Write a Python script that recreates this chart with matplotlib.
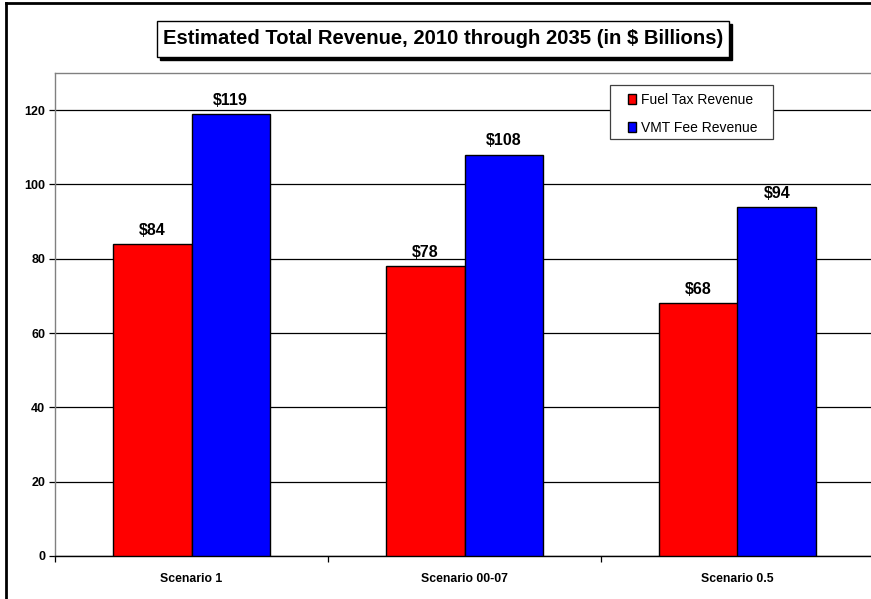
import matplotlib
matplotlib.use("Agg")
import matplotlib.pyplot as plt
from matplotlib.patches import Rectangle
from matplotlib.lines import Line2D
import numpy as np

plt.rcParams['font.family'] = ['Liberation Sans', 'DejaVu Sans']

categories = ["Scenario 1", "Scenario 00-07", "Scenario 0.5"]
fuel_tax = [84, 78, 68]
vmt_fee = [119, 108, 94]
series_names = ["Fuel Tax Revenue", "VMT Fee Revenue"]
yticks = [0, 20, 40, 60, 80, 100, 120]
title = "Estimated Total Revenue, 2010 through 2035 (in $ Billions)"

W, H = 871, 599
fig = plt.figure(figsize=(W / 100, H / 100), dpi=100)

def px_rect(x0, y0, x1, y1):
    """Convert top-left pixel box to figure fraction [l, b, w, h]."""
    return [x0 / W, 1 - y1 / H, (x1 - x0) / W, (y1 - y0) / H]

ax = fig.add_axes(px_rect(55, 73, 874, 556))

x = np.arange(len(categories))
w = 0.2875
ax.bar(x - w / 2, fuel_tax, w, color="#ff0000", edgecolor="black", linewidth=1.0,
       label=series_names[0], zorder=3)
ax.bar(x + w / 2, vmt_fee, w, color="#0000ff", edgecolor="black", linewidth=1.0,
       label=series_names[1], zorder=3)

for xi, v in zip(x - w / 2, fuel_tax):
    ax.annotate(f"${v}", (xi, v), xytext=(0, 4.5), textcoords="offset points",
                ha="center", va="bottom", fontsize=11.5, fontweight="bold", zorder=4)
for xi, v in zip(x + w / 2, vmt_fee):
    ax.annotate(f"${v}", (xi, v), xytext=(0, 4.5), textcoords="offset points",
                ha="center", va="bottom", fontsize=11.5, fontweight="bold", zorder=4)

ax.set_xlim(-0.5, len(categories) - 0.5)
ax.set_ylim(0, 130)
ax.set_yticks(yticks)
ax.set_yticklabels([str(t) for t in yticks], fontsize=9, fontweight="bold")
ax.yaxis.grid(True, color="black", linewidth=0.9, zorder=0)
ax.set_axisbelow(True)
ax.tick_params(axis="y", length=4, width=0.9, color="black", pad=3)

ax.set_xticks(x)
ax.set_xticklabels(categories, fontsize=8.8, fontweight="bold")
ax.tick_params(axis="x", which="major", length=0, pad=12)
ax.set_xticks(np.arange(-0.5, len(categories) - 0.4, 1.0), minor=True)
ax.tick_params(axis="x", which="minor", length=4, width=0.9, color="black")

for side in ("left", "top", "right"):
    ax.spines[side].set_color("#808080")
    ax.spines[side].set_linewidth(1.0)
ax.spines["bottom"].set_color("black")
ax.spines["bottom"].set_linewidth(1.0)

# Legend: frame drawn as a separate box, entries placed inside it
lx0, ly0, lx1, ly1 = 610, 85, 773, 139
fig.patches.append(Rectangle((lx0 / W, 1 - ly1 / H), (lx1 - lx0) / W,
                             (ly1 - ly0) / H, transform=fig.transFigure,
                             facecolor="white", edgecolor="#404040",
                             linewidth=0.9, zorder=5))
leg = ax.legend(loc="upper left", bbox_to_anchor=(628 / W, 1 - 93 / H),
                bbox_transform=fig.transFigure, fontsize=10, frameon=False,
                handlelength=0.6, handleheight=0.75, handletextpad=0.3,
                borderpad=0, labelspacing=1.0, borderaxespad=0)
leg.set_zorder(6)
fig.legends.append(leg)
ax.get_legend().remove()

# Title with drop-shadow box
tx0, ty0, tx1, ty1 = 157, 21, 729, 57
fig.patches.append(Rectangle(((tx0 + 3) / W, 1 - (ty1 + 3) / H), (tx1 - tx0) / W,
                             (ty1 - ty0) / H, transform=fig.transFigure,
                             facecolor="black", edgecolor="black", zorder=1))
fig.patches.append(Rectangle((tx0 / W, 1 - ty1 / H), (tx1 - tx0) / W,
                             (ty1 - ty0) / H, transform=fig.transFigure,
                             facecolor="white", edgecolor="black", linewidth=1.0,
                             zorder=2))
fig.text((tx0 + tx1) / 2 / W, 1 - (ty0 + ty1) / 2 / H, title, ha="center",
         va="center", fontsize=14.6, fontweight="bold", zorder=3)

# Outer chart frame (top and left edges)
fig.lines.append(Line2D([6 / W, 1.0], [1 - 3 / H, 1 - 3 / H],
                        transform=fig.transFigure, color="black", linewidth=2))
fig.lines.append(Line2D([6 / W, 6 / W], [1 - 3 / H, 0.0],
                        transform=fig.transFigure, color="black", linewidth=2))

fig.savefig("out.png", dpi=100)
